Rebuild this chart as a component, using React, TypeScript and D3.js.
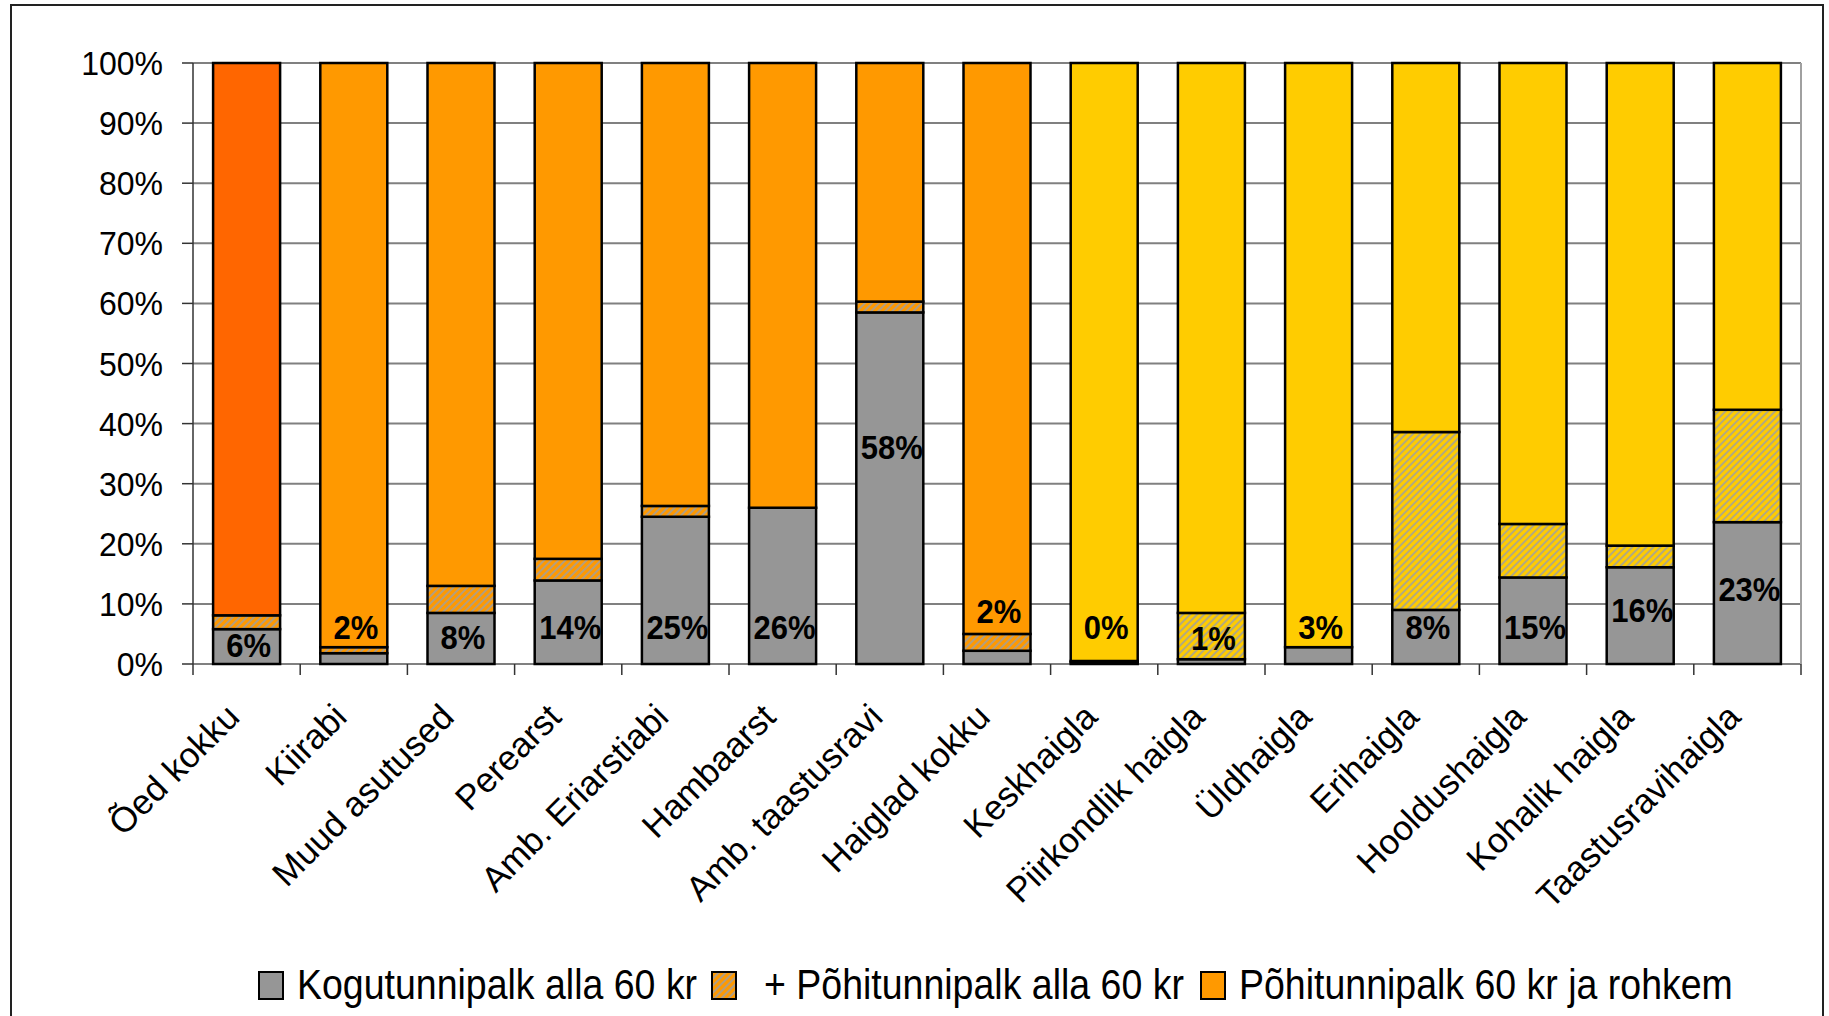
import React from 'react';
import * as d3 from 'd3';

const categories = [
  'Õed kokku', 'Kiirabi', 'Muud asutused', 'Perearst', 'Amb. Eriarstiabi', 'Hambaarst',
  'Amb. taastusravi', 'Haiglad kokku', 'Keskhaigla', 'Piirkondlik haigla', 'Üldhaigla',
  'Erihaigla', 'Hooldushaigla', 'Kohalik haigla', 'Taastusravihaigla',
];
const kogutunnipalkAlla60 = [0.058, 0.018, 0.085, 0.139, 0.245, 0.26, 0.585, 0.022, 0.003, 0.008, 0.028, 0.09, 0.144, 0.161, 0.236];
const pohitunnipalkAlla60 = [0.023, 0.01, 0.045, 0.036, 0.018, 0.0, 0.018, 0.028, 0.002, 0.077, 0.0, 0.296, 0.089, 0.036, 0.187];
const pohitunnipalk60Rohkem = [0.919, 0.972, 0.87, 0.825, 0.737, 0.74, 0.397, 0.95, 0.995, 0.915, 0.972, 0.614, 0.767, 0.803, 0.577];
const dataLabels = ['6%', '2%', '8%', '14%', '25%', '26%', '58%', '2%', '0%', '1%', '3%', '8%', '15%', '16%', '23%'];
const dataLabelAt = [0.032, 0.062, 0.045, 0.062, 0.062, 0.062, 0.362, 0.089, 0.062, 0.043, 0.062, 0.062, 0.062, 0.09, 0.125];
const yTicks = [0, 0.1, 0.2, 0.3, 0.4, 0.5, 0.6, 0.7, 0.8, 0.9, 1.0];
const seriesNames = ['Kogutunnipalk alla 60 kr', '+ Põhitunnipalk alla 60 kr', 'Põhitunnipalk 60 kr ja rohkem'];

const W = 1829;
const H = 1016;
const FONT = '"Liberation Sans", Arial, Helvetica, sans-serif';
const GRAY = '#969696';

function topFill(i: number) {
  if (i === 0) return '#FF6600';
  if (i < 8) return '#FF9900';
  return '#FFCC00';
}
function hatchFill(i: number) {
  return i < 8 ? 'url(#hatchOrange)' : 'url(#hatchYellow)';
}

export default function App() {
  const x = d3.scaleBand<string>().domain(categories).range([193, 1801]).paddingInner(0.375).paddingOuter(0.1875);
  const y = d3.scaleLinear().domain([0, 1]).range([664, 63]);
  const rows = categories.map((c, i) => ({
    cat: c,
    a: kogutunnipalkAlla60[i],
    b: pohitunnipalkAlla60[i],
    c: pohitunnipalk60Rohkem[i],
  }));
  const stacked = d3.stack<any>().keys(['a', 'b', 'c'])(rows);
  const step = x.step();
  const [x0, x1] = x.range();
  const boundaries = d3.range(categories.length + 1).map((k) => x0 + k * step);

  const fillFor = (key: string, i: number) =>
    key === 'a' ? GRAY : key === 'b' ? hatchFill(i) : topFill(i);

  return (
    <svg width={W} height={H} style={{ position: 'absolute', left: 0, top: 0, display: 'block', background: '#fff' }}>
      <defs>
        <pattern id="hatchOrange" width="5" height="5" patternUnits="userSpaceOnUse" patternTransform="rotate(45)">
          <rect width="5" height="5" fill="#FF9900" />
          <line x1="1" y1="0" x2="1" y2="5" stroke="#A0A0A0" strokeWidth="1.6" />
        </pattern>
        <pattern id="hatchYellow" width="5" height="5" patternUnits="userSpaceOnUse" patternTransform="rotate(45)">
          <rect width="5" height="5" fill="#FFCC00" />
          <line x1="1" y1="0" x2="1" y2="5" stroke="#A0A0A0" strokeWidth="1.6" />
        </pattern>
      </defs>
      <rect x={11} y={5} width={1812} height={1040} fill="#fff" stroke="#222" strokeWidth={2} />

      {/* gridlines */}
      {yTicks.map((t) => (
        <line key={'g' + t} x1={x0} x2={x1} y1={y(t)} y2={y(t)} stroke="#808080" strokeWidth={2} />
      ))}
      <line x1={x1} x2={x1} y1={y(1)} y2={y(0)} stroke="#a0a0a0" strokeWidth={2} />

      {/* y axis */}
      <line x1={x0} x2={x0} y1={y(1)} y2={y(0)} stroke="#333" strokeWidth={1.5} />
      {yTicks.map((t) => (
        <g key={'yt' + t}>
          <line x1={x0 - 11} x2={x0} y1={y(t)} y2={y(t)} stroke="#333" strokeWidth={1.5} />
          <text
            transform={`translate(163,${y(t)}) scale(1,1.05)`}
            dy="0.36em"
            textAnchor="end"
            fontFamily={FONT}
            fontSize={32}
            fill="#000"
          >
            {d3.format('.0%')(t)}
          </text>
        </g>
      ))}

      {/* x ticks */}
      {boundaries.map((bx, k) => (
        <line key={'xt' + k} x1={bx} x2={bx} y1={y(0)} y2={y(0) + 11} stroke="#333" strokeWidth={1.5} />
      ))}

      {/* bars */}
      {stacked.map((s) => (
        <g key={s.key}>
          {s.map((d, i) => (
            <rect
              key={i}
              x={x(categories[i])!}
              y={y(d[1])}
              width={x.bandwidth()}
              height={Math.max(0, y(d[0]) - y(d[1]))}
              fill={fillFor(s.key as string, i)}
              stroke="#000"
              strokeWidth={2.5}
            />
          ))}
        </g>
      ))}

      {/* data labels */}
      {categories.map((c, i) => (
        <text
          key={'dl' + i}
          transform={`translate(${x(c)! + x.bandwidth() / 2 + 2},${y(dataLabelAt[i])}) scale(1,1.1)`}
          dy="0.36em"
          textAnchor="middle"
          fontFamily={FONT}
          fontWeight="bold"
          fontSize={31}
          fill="#000"
        >
          {dataLabels[i]}
        </text>
      ))}

      {/* category labels */}
      {categories.map((c) => {
        const cx = x(c)! + x.bandwidth() / 2 - 5;
        const cy = 719;
        return (
          <text
            key={'cl' + c}
            transform={`translate(${cx},${cy}) rotate(-45)`}
            textAnchor="end"
            fontFamily={FONT}
            fontSize={35}
            fill="#000"
          >
            {c}
          </text>
        );
      })}

      {/* legend */}
      {[
        { fill: GRAY, bx: 259, tx: 297 },
        { fill: 'url(#hatchOrange)', bx: 712, tx: 764 },
        { fill: '#FF9900', bx: 1201, tx: 1239 },
      ].map((it, k) => (
        <g key={'lg' + k}>
          <rect x={it.bx} y={972} width={24} height={27} fill={it.fill} stroke="#000" strokeWidth={2} />
          <text
            transform={`translate(${it.tx},999) scale(1,1.12)`}
            fontFamily={FONT}
            fontSize={37.5}
            fill="#000"
          >
            {seriesNames[k]}
          </text>
        </g>
      ))}
    </svg>
  );
}
